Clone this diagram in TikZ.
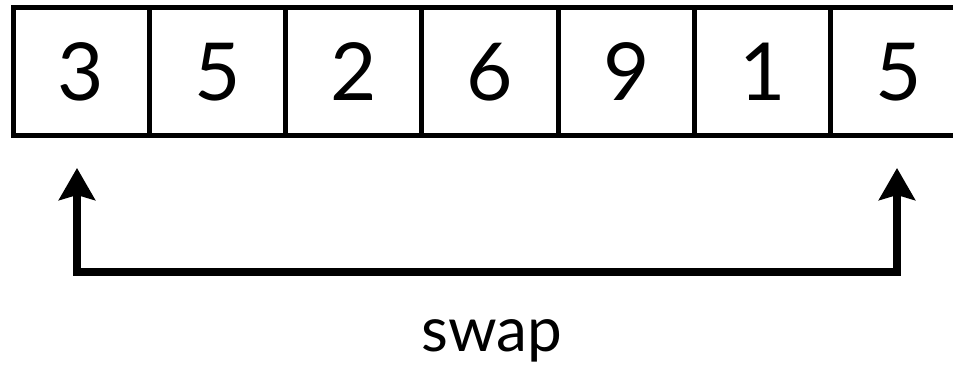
\documentclass[tikz,border=0pt]{standalone}
\usepackage{fontspec}
\setmainfont{Lato}
\usetikzlibrary{positioning, arrows.meta}

\begin{document}
\begin{tikzpicture}[
    x=1pt, y=-1pt,
    cell/.style={draw, line width=5pt, minimum width=136.3pt, minimum height=127.5pt, inner sep=0pt, outer sep=0pt, font=\fontsize{80}{80}\selectfont},
    swaparrow/.style={line width=8pt, -{Stealth[length=32pt, width=36pt, inset=5pt]}},
    swapbar/.style={line width=8pt},
]
    \useasboundingbox (0, 0) rectangle (953, 371);

    % Array
    \foreach \v [count=\i] in {3, 5, 2, 6, 9, 1, 5}
        \node[cell] (c\i) at ({13 + 136.3*(\i - 0.5)}, 71.75) {\v};

    % Swap
    \coordinate (lb) at (77, 272);
    \coordinate (rb) at (897, 272);
    \coordinate (lt) at (77, 168);
    \coordinate (rt) at (897, 168);
    \draw[swapbar] ([xshift=-4pt]lb) -- ([xshift=1pt]rb);
    \draw[swaparrow] ([yshift=-4pt]lb) -- (lt);
    \draw[swaparrow] ([yshift=-4pt]rb) -- (rt);

    \node[font=\fontsize{62}{62}\selectfont, anchor=base] (swaplbl) at (492, 352) {swap};
\end{tikzpicture}
\end{document}
